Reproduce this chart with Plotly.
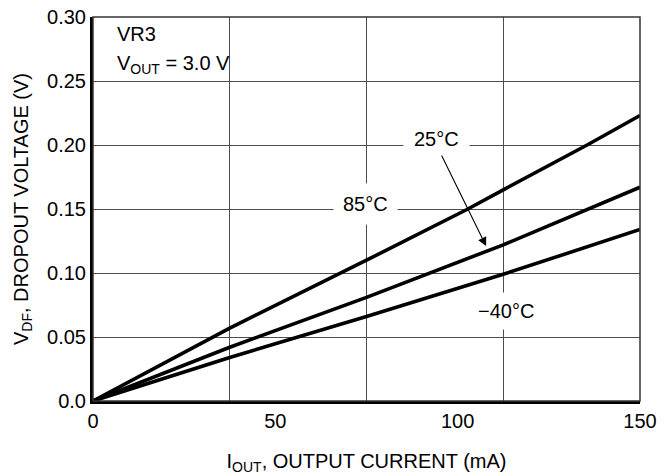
import plotly.graph_objects as go

# Dropout voltage vs output current (VR3, VOUT = 3.0 V)
current_85 = [0, 37.5, 75, 102.8, 112.5, 135.5, 150]
vdrop_85 = [0, 0.057, 0.110, 0.150, 0.165, 0.200, 0.223]

current_25 = [0, 37.5, 75, 88, 112.5, 150]
vdrop_25 = [0, 0.042, 0.081, 0.095, 0.122, 0.167]

current_m40 = [0, 37.5, 75, 90, 112.5, 150]
vdrop_m40 = [0, 0.034, 0.066, 0.079, 0.099, 0.134]

x_ticks = [0, 50, 100, 150]
x_grid = [37.5, 75, 112.5]
y_ticks = [0, 0.05, 0.10, 0.15, 0.20, 0.25, 0.30]
y_labels = ["0.0", "0.05", "0.10", "0.15", "0.20", "0.25", "0.30"]

FONT = "Liberation Sans, Arial, Helvetica, sans-serif"
GRID = "#4d4d4d"
FS = 20

fig = go.Figure()

for xs, ys, name in [
    (current_85, vdrop_85, "85°C"),
    (current_25, vdrop_25, "25°C"),
    (current_m40, vdrop_m40, "−40°C"),
]:
    fig.add_trace(go.Scatter(x=xs, y=ys, mode="lines", name=name,
                             line=dict(color="black", width=3.6)))

label_font = dict(family=FONT, size=FS, color="black")

# curve labels, with white boxes that break the grid
fig.add_annotation(x=94.3, y=0.2047, text="25°C", showarrow=False,
                   bgcolor="white", borderpad=10, font=label_font)
fig.add_annotation(x=74.6, y=0.154, text="85°C", showarrow=False,
                   bgcolor="white", borderpad=9, font=label_font)
fig.add_annotation(x=113.2, y=0.0703, text="−40°C", showarrow=False,
                   bgcolor="white", borderpad=7, font=label_font)

# arrow from the 25°C label down to its curve
fig.add_annotation(x=107.8, y=0.121, ax=95.4, ay=0.193,
                   axref="x", ayref="y", text="", showarrow=True,
                   arrowhead=2, arrowsize=1.6, arrowwidth=1.1,
                   arrowcolor="black")

# white box for the condition text, under the curves but over the grid
fig.add_shape(type="rect", xref="paper", yref="paper",
              x0=0, x1=0.278, y0=0.815, y1=1,
              fillcolor="white", line=dict(width=0), layer="between")
fig.add_annotation(x=0.04, y=0.956, xref="paper", yref="paper",
                   xanchor="left", yanchor="middle", text="VR3",
                   showarrow=False, font=label_font)
fig.add_annotation(x=0.04, y=0.876, xref="paper", yref="paper",
                   xanchor="left", yanchor="middle",
                   text="V<sub>OUT</sub> = 3.0 V",
                   showarrow=False, font=label_font)

# thin frame on the top and right
fig.add_shape(type="rect", xref="paper", yref="paper", x0=0, y0=0, x1=1, y1=1,
              line=dict(color="#333333", width=1.5), layer="above")

fig.update_layout(
    width=672, height=476,
    margin=dict(l=93, r=32, t=17, b=75),
    paper_bgcolor="white", plot_bgcolor="white",
    showlegend=False,
    font=dict(family=FONT, size=FS, color="black"),
    xaxis=dict(
        range=[0, 150], tickvals=x_ticks, showgrid=False, zeroline=False,
        showline=True, linecolor="black", linewidth=3, ticks="",
        tickfont=dict(size=FS), automargin=False,
        minor=dict(tickvals=x_grid, showgrid=True, gridcolor=GRID,
                   gridwidth=1.3, ticks=""),
        title=dict(text="I<sub>OUT</sub>, OUTPUT CURRENT (mA)",
                   font=dict(size=FS), standoff=23),
    ),
    yaxis=dict(
        range=[0, 0.30], tickvals=y_ticks, ticktext=y_labels,
        showgrid=True, gridcolor=GRID, gridwidth=1.3, zeroline=False,
        showline=True, linecolor="black", linewidth=3, ticks="",
        tickfont=dict(size=FS), automargin=False,
        title=dict(text="V<sub>DF</sub>, DROPOUT VOLTAGE (V)",
                   font=dict(size=FS), standoff=14),
    ),
)

fig.write_html("out.html", config={"displayModeBar": False},
               post_script="document.body.style.margin='0';")
